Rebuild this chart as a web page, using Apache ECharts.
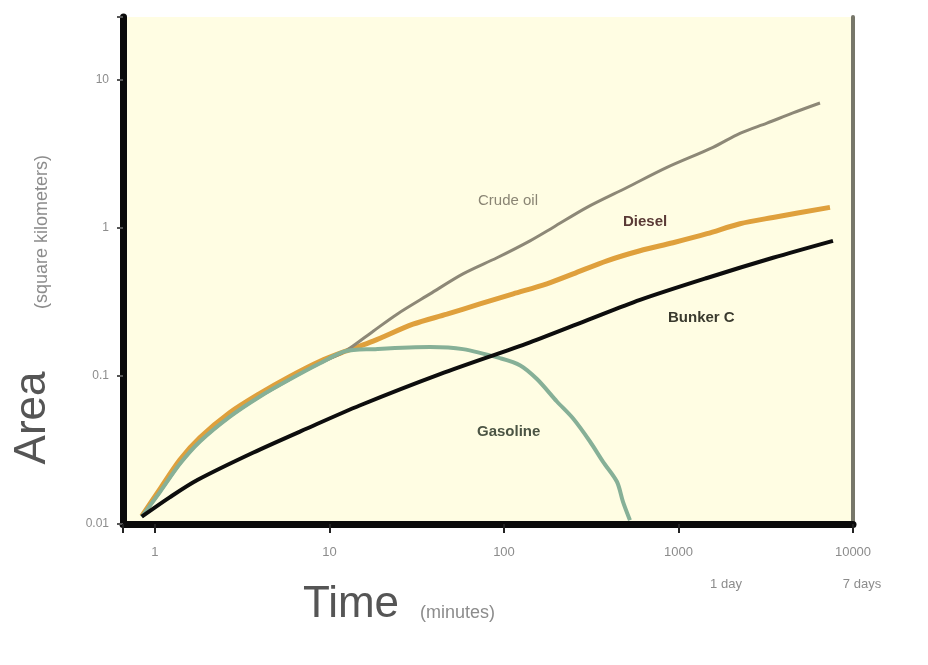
<!DOCTYPE html>
<html>
<head>
<meta charset="utf-8">
<script src="https://cdn.jsdelivr.net/npm/echarts@6/dist/echarts.min.js"></script>
<style>
html, body { margin: 0; padding: 0; background: #fff; }
#chart { width: 928px; height: 665px; }
</style>
</head>
<body>
<div id="chart"></div>
<script>
// time in minutes, area in square kilometers (both log scale)
var xTickLabels = ['1', '10', '100', '1000', '10000'];
var yTickLabels = ['0.01', '0.1', '1', '10'];
var dayLabels = ['1 day', '7 days'];
var seriesNames = ['Crude oil', 'Diesel', 'Gasoline', 'Bunker C'];

var crudeTime = [0.84, 1.07, 1.39, 1.81, 2.69, 4.0, 5.94, 8.83, 12.3, 17.8, 24.4, 37.7, 58.2, 91.2, 141, 191, 299, 507, 859, 1577, 2250, 3214, 4530, 6470];
var crudeArea = [0.0112, 0.0165, 0.0255, 0.0361, 0.0532, 0.0728, 0.0951, 0.122, 0.147, 0.201, 0.262, 0.359, 0.490, 0.630, 0.820, 1.01, 1.38, 1.88, 2.57, 3.51, 4.37, 5.12, 6.0, 7.0];

var dieselTime = [0.84, 1.07, 1.39, 1.81, 2.69, 4.0, 5.94, 8.83, 12.3, 17.8, 30.1, 47.1, 72.8, 113, 176, 249, 389, 602, 930, 1457, 2250, 3480, 7380];
var dieselArea = [0.0113, 0.0173, 0.0272, 0.0384, 0.0567, 0.0764, 0.0995, 0.126, 0.147, 0.172, 0.224, 0.262, 0.307, 0.359, 0.420, 0.490, 0.601, 0.703, 0.796, 0.916, 1.07, 1.18, 1.38];

var gasolineTime = [0.84, 1.07, 1.39, 1.81, 2.69, 4.0, 5.94, 8.83, 12.3, 17.8, 37.7, 58.2, 94.9, 124, 155, 201, 249, 311, 369, 444, 481, 527];
var gasolineArea = [0.0112, 0.0165, 0.0255, 0.0361, 0.0532, 0.0728, 0.0951, 0.122, 0.147, 0.152, 0.157, 0.152, 0.132, 0.118, 0.0951, 0.0673, 0.0516, 0.0361, 0.0264, 0.0193, 0.0141, 0.0106];

var bunkerTime = [0.84, 1.22, 1.76, 3.64, 7.43, 14.9, 43.0, 141, 291, 602, 1457, 3480, 7680];
var bunkerArea = [0.0112, 0.0152, 0.0199, 0.0303, 0.0442, 0.0632, 0.103, 0.169, 0.235, 0.327, 0.460, 0.630, 0.820];

function pairs(xs, ys) {
	var out = [];
	for (var i = 0; i < xs.length; i++) {
		out.push([xs[i], ys[i]]);
	}
	return out;
}

// only label whole decades that are listed in the tick label arrays
function decadeLabel(list) {
	return function(v) {
		var l = Math.log(v) / Math.LN10;
		if (Math.abs(l - Math.round(l)) > 1e-6) return '';
		var s = String(+v.toPrecision(6));
		return list.indexOf(s) >= 0 ? s : '';
	};
}

var chart = echarts.init(document.getElementById('chart'));

var option = {
	backgroundColor: '#ffffff',
	animation: false,
	grid: {
		left: 123,
		right: 75,
		top: 17,
		bottom: 141,
		show: true,
		backgroundColor: '#fffde3',
		borderWidth: 0
	},
	xAxis: {
		type: 'log',
		logBase: 10,
		min: 0.656,
		max: 10000,
		splitNumber: 4,
		axisLine: { show: true, lineStyle: { color: '#0a0a0a', width: 7 } },
		axisTick: { show: true, length: 9, lineStyle: { color: '#222', width: 2 } },
		axisLabel: {
			margin: 22,
			color: '#8c8c8c',
			fontFamily: 'Liberation Sans',
			fontSize: 13,
			formatter: decadeLabel(xTickLabels)
		},
		splitLine: { show: false }
	},
	yAxis: [{
		type: 'log',
		logBase: 10,
		min: 0.01,
		max: 26.7,
		splitNumber: 3,
		axisLine: { show: true, lineStyle: { color: '#0a0a0a', width: 7 } },
		axisTick: { show: true, length: 6, lineStyle: { color: '#555', width: 2 } },
		axisLabel: {
			margin: 14,
			color: '#8c8c8c',
			fontFamily: 'Liberation Sans',
			fontSize: 12,
			formatter: decadeLabel(yTickLabels)
		},
		splitLine: { show: false }
	}, {
		type: 'value',
		position: 'right',
		min: 0,
		max: 1,
		axisLine: { show: true, lineStyle: { color: '#77776a', width: 4 } },
		axisTick: { show: false },
		axisLabel: { show: false },
		splitLine: { show: false }
	}],
	series: [{
		name: seriesNames[1],
		type: 'line',
		data: pairs(dieselTime, dieselArea),
		smooth: 0.3,
		showSymbol: false,
		lineStyle: { color: '#dfa03c', width: 5 },
		z: 2
	}, {
		name: seriesNames[0],
		type: 'line',
		data: pairs(crudeTime, crudeArea),
		smooth: 0.3,
		showSymbol: false,
		lineStyle: { color: '#8d8877', width: 3 },
		z: 3
	}, {
		name: seriesNames[2],
		type: 'line',
		data: pairs(gasolineTime, gasolineArea),
		smooth: 0.3,
		showSymbol: false,
		lineStyle: { color: '#86b097', width: 4 },
		z: 4
	}, {
		name: seriesNames[3],
		type: 'line',
		data: pairs(bunkerTime, bunkerArea),
		smooth: 0.3,
		showSymbol: false,
		lineStyle: { color: '#0d0d0d', width: 4 },
		z: 5
	}],
	graphic: [
		// y axis title
		{ type: 'text', x: 33, y: 418, rotation: Math.PI / 2,
			style: { text: 'Area', font: '44px "Liberation Sans"', fill: '#555', align: 'center', verticalAlign: 'middle' } },
		{ type: 'text', x: 42, y: 232, rotation: Math.PI / 2,
			style: { text: '(square kilometers)', font: '18px "Liberation Sans"', fill: '#8c8c8c', align: 'center', verticalAlign: 'middle' } },
		// x axis title
		{ type: 'text', x: 351, y: 605,
			style: { text: 'Time', font: '44px "Liberation Sans"', fill: '#555', align: 'center', verticalAlign: 'middle' } },
		{ type: 'text', x: 420, y: 613,
			style: { text: '(minutes)', font: '18px "Liberation Sans"', fill: '#8c8c8c', align: 'left', verticalAlign: 'middle' } },
		// day markers under the time ticks
		{ type: 'text', x: 726, y: 584,
			style: { text: dayLabels[0], font: '13px "Liberation Sans"', fill: '#8c8c8c', align: 'center', verticalAlign: 'middle' } },
		{ type: 'text', x: 862, y: 584,
			style: { text: dayLabels[1], font: '13px "Liberation Sans"', fill: '#8c8c8c', align: 'center', verticalAlign: 'middle' } },
		// curve labels
		{ type: 'text', x: 478, y: 201, z: 10,
			style: { text: seriesNames[0], font: '15px "Liberation Sans"', fill: '#8a8574', align: 'left', verticalAlign: 'middle' } },
		{ type: 'text', x: 623, y: 222, z: 10,
			style: { text: seriesNames[1], font: 'bold 15px "Liberation Sans"', fill: '#5a3a36', align: 'left', verticalAlign: 'middle' } },
		{ type: 'text', x: 477, y: 432, z: 10,
			style: { text: seriesNames[2], font: 'bold 15px "Liberation Sans"', fill: '#4b5444', align: 'left', verticalAlign: 'middle' } },
		{ type: 'text', x: 668, y: 318, z: 10,
			style: { text: seriesNames[3], font: 'bold 15px "Liberation Sans"', fill: '#3a3a2e', align: 'left', verticalAlign: 'middle' } }
	]
};

chart.setOption(option);
</script>
</body>
</html>
